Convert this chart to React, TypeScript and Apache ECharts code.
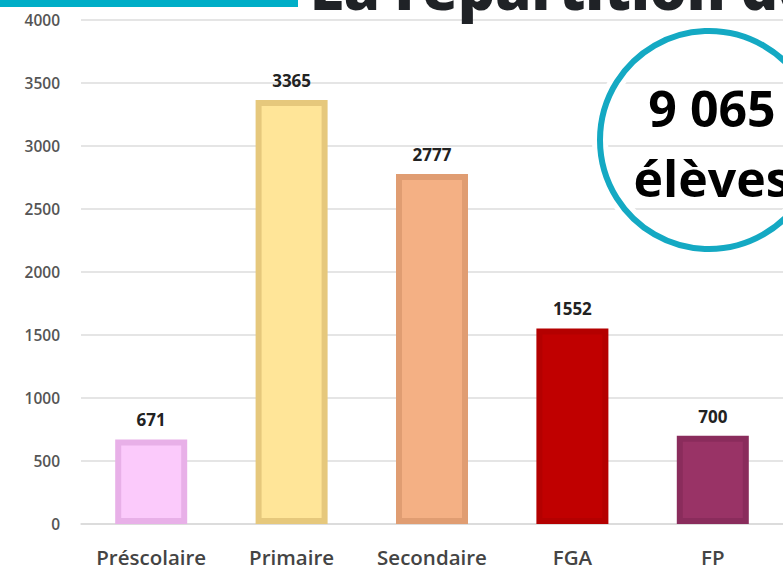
import React, { useEffect, useRef } from "react";
import * as echarts from "echarts";

const categories = ["Préscolaire", "Primaire", "Secondaire", "FGA", "FP"];
const values = [671, 3365, 2777, 1552, 700];
const fillColors = ["#FBCAFB", "#FFE598", "#F4B084", "#C00000", "#993366"];
const borderColors = ["#E8B0E8", "#E6C87C", "#E09D72", "#B40000", "#8A2C5C"];
const yTicks = { min: 0, max: 4000, interval: 500 };
const titleText = "La répartition des élèves";
const totalText = "9 065";
const totalUnit = "élèves";

export default function App() {
  const ref = useRef<HTMLDivElement>(null);
  useEffect(() => {
    if (!ref.current) return;
    const chart = echarts.init(ref.current, undefined, { renderer: "svg" });
    const teal = "#14A9C3";
    chart.setOption({
      animation: false,
      backgroundColor: "#ffffff",
      textStyle: { fontFamily: "Open Sans" },
      grid: { left: 81, right: -8, top: 20, bottom: 48, containLabel: false },
      xAxis: {
        type: "category",
        data: categories,
        axisLine: { show: true, lineStyle: { color: "#d9d9d9", width: 1.5 } },
        axisTick: { show: false },
        axisLabel: {
          interval: 0,
          fontSize: 20.5,
          lineHeight: 22,
          fontWeight: 600,
          color: "#444444",
          margin: 22,
          fontFamily: "Open Sans",
        },
      },
      yAxis: {
        type: "value",
        min: yTicks.min,
        max: yTicks.max,
        interval: yTicks.interval,
        axisLine: { show: false },
        axisTick: { show: false },
        axisLabel: {
          fontSize: 15.5,
          fontWeight: 600,
          color: "#555555",
          margin: 21,
          fontFamily: "Open Sans",
          formatter: (v: number) => String(v),
        },
        splitLine: { lineStyle: { color: "#dcdcdc", width: 1.5 } },
      },
      series: [
        {
          type: "bar",
          barWidth: 72,
          data: values.map((v, i) => ({
            value: v,
            itemStyle: {
              color: fillColors[i],
              borderColor: borderColors[i],
              borderWidth: 6,
            },
          })),
          label: {
            show: true,
            position: "top",
            distance: 11,
            fontSize: 17,
            fontWeight: "bold",
            color: "#222222",
            fontFamily: "Open Sans",
          },
        },
      ],
      graphic: [
        {
          type: "rect",
          shape: { x: 0, y: 0, width: 298, height: 7 },
          style: { fill: "#00AEC7" },
          z: 100,
        },
        {
          type: "text",
          x: 310,
          y: 16,
          style: {
            text: titleText,
            fontSize: 58,
            fontWeight: 800,
            fontFamily: "Open Sans",
            fill: "#1f2226",
            textVerticalAlign: "bottom",
          },
          z: 100,
        },
        {
          type: "circle",
          shape: { cx: 709, cy: 140, r: 109 },
          style: { fill: "none", stroke: "#ffffff", lineWidth: 16 },
          z: 100,
        },
        {
          type: "circle",
          shape: { cx: 709, cy: 140, r: 109 },
          style: { fill: "none", stroke: teal, lineWidth: 6 },
          z: 101,
        },
        {
          type: "text",
          x: 712,
          y: 108,
          style: {
            text: totalText,
            fontSize: 50,
            fontWeight: "bold",
            fontFamily: "Open Sans",
            fill: "#000000",
            textAlign: "center",
            textVerticalAlign: "middle",
          },
          z: 102,
        },
        {
          type: "text",
          x: 712,
          y: 178,
          style: {
            text: totalUnit,
            fontSize: 50,
            fontWeight: "bold",
            fontFamily: "Open Sans",
            fill: "#000000",
            textAlign: "center",
            textVerticalAlign: "middle",
          },
          z: 102,
        },
      ],
    });
    return () => chart.dispose();
  }, []);
  return (
    <div
      ref={ref}
      style={{ position: "fixed", left: 0, top: 0, width: 783, height: 572 }}
    />
  );
}
